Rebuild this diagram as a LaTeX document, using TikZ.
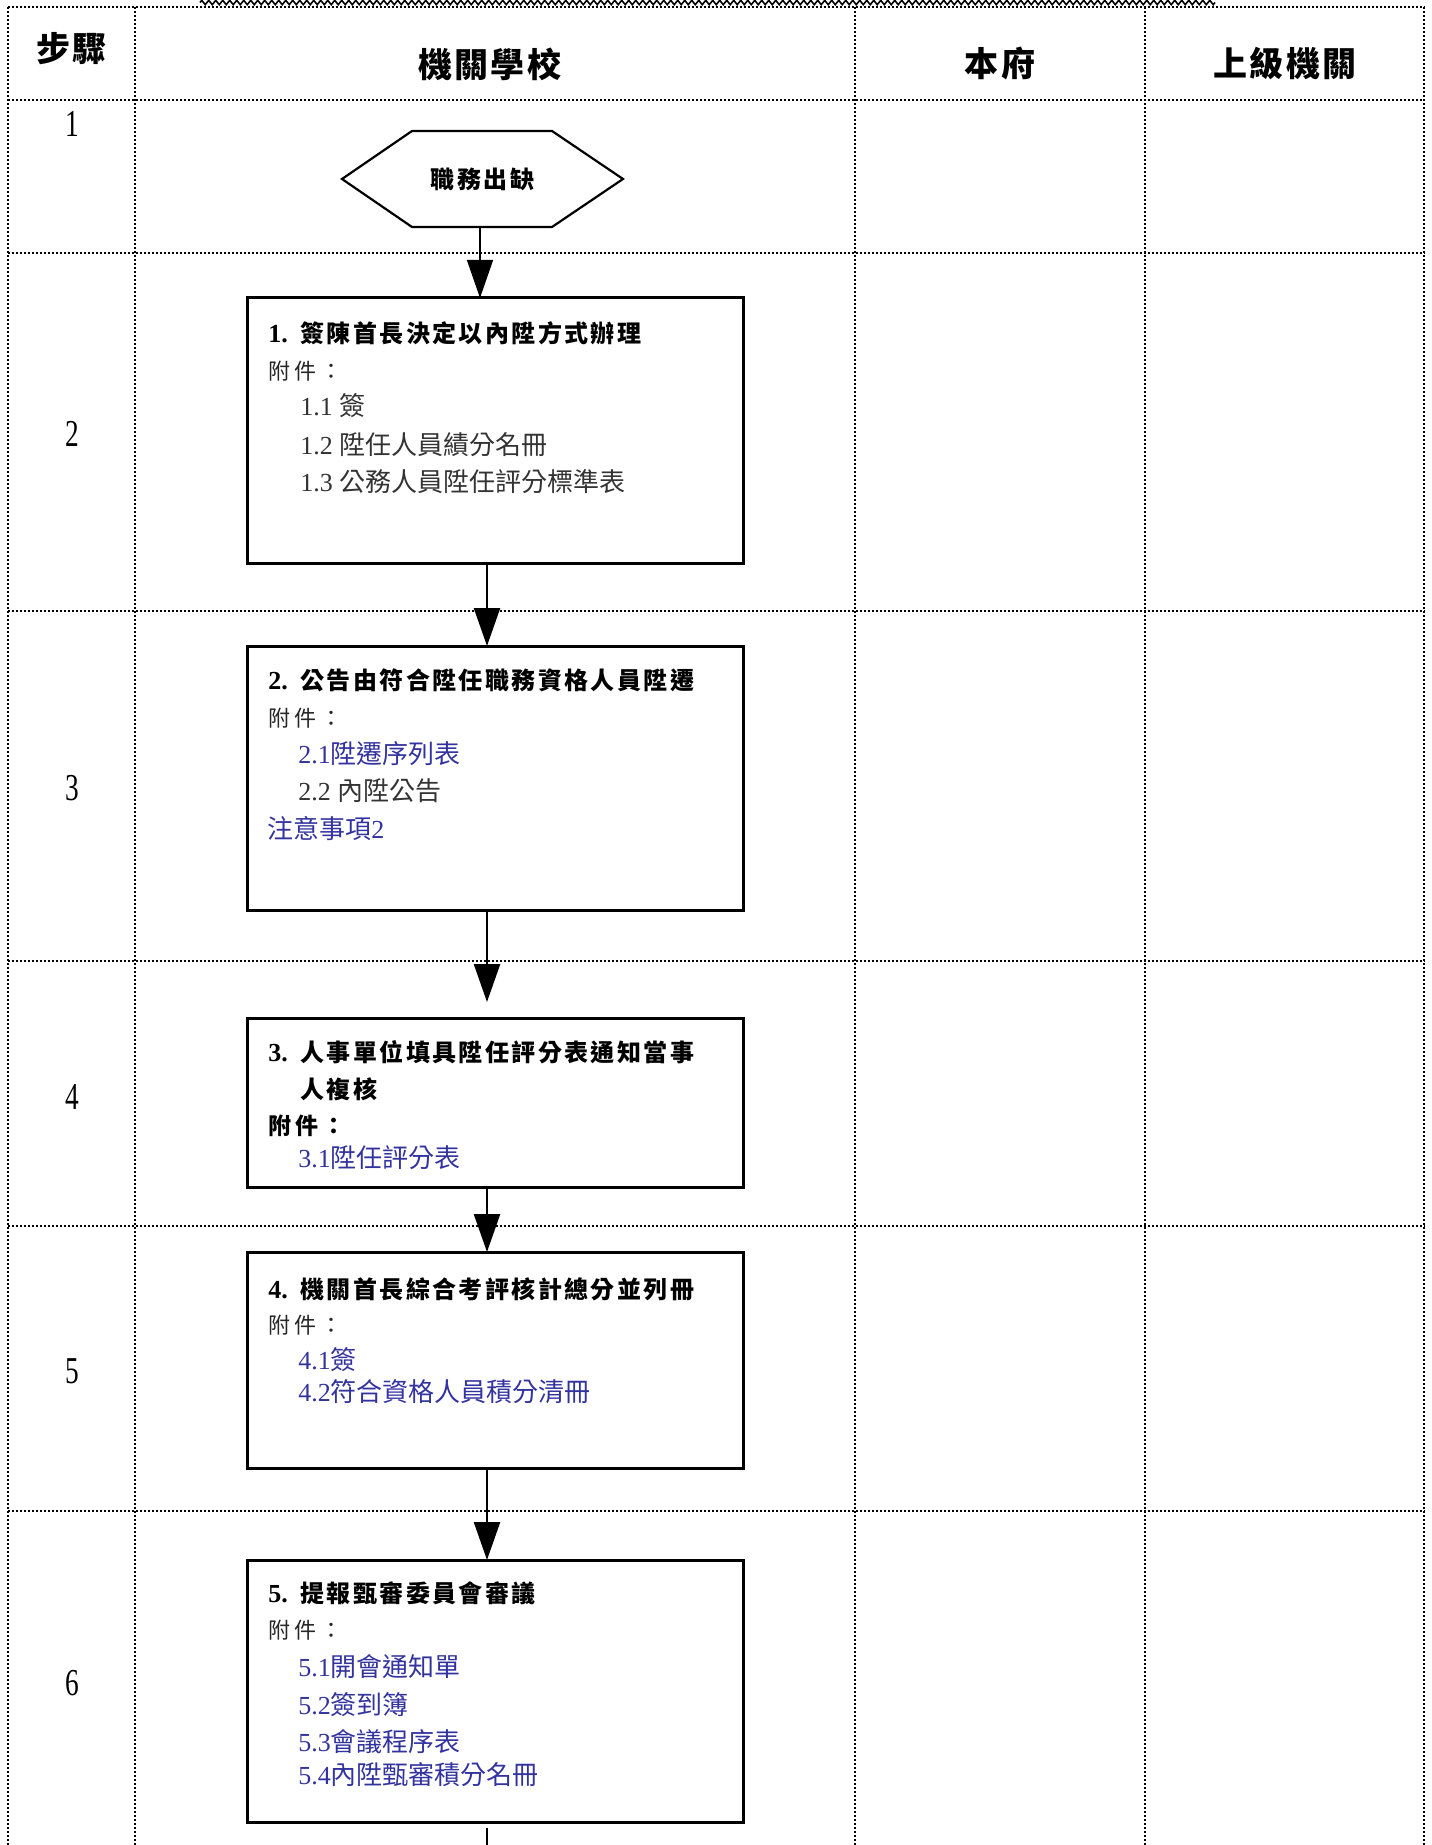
\documentclass[tikz,border=0pt]{standalone}
\usepackage{fontspec}
\setmainfont{Liberation Serif}
\newfontfamily\cjk{Noto Sans CJK TC}
\newfontfamily\cjksp[LetterSpace=10]{Noto Sans CJK TC}
\newfontfamily\cjkatt[LetterSpace=18]{Noto Sans CJK TC}
\newfontfamily\cjkh[LetterSpace=6]{Noto Sans CJK TC}
\usetikzlibrary{arrows.meta,decorations.pathmorphing}
\definecolor{linkblue}{RGB}{51,51,160}
\definecolor{itemgrey}{RGB}{51,51,51}
\newcommand\tnum[1]{\makebox[16pt][l]{\fontsize{13pt}{15pt}\selectfont\rmfamily\bfseries #1}}
\begin{document}
\begin{tikzpicture}[x=0.5pt,y=-0.5pt,
  grid/.style={line width=1pt,dash pattern=on 1pt off 1pt},
  box/.style={draw,line width=1.5pt,minimum width=248pt,inner sep=0pt,outer sep=0pt,anchor=north west},
  hexbase/.style={minimum width=140.5pt,minimum height=48pt,inner sep=0pt,outer sep=0pt,font=\fontsize{12pt}{14pt}\selectfont\cjksp\bfseries},
  hexline/.style={line width=1.1pt,line join=miter},
  arr/.style={line width=1.2pt,-{Triangle[length=19pt,width=13pt]}},
  thinarr/.style={line width=0.7pt,-{Triangle[length=19pt,width=13pt]}},
  thinline/.style={line width=0.7pt},
  title/.style={anchor=west,inner sep=0pt,font=\fontsize{12pt}{14pt}\selectfont\cjksp\bfseries},
  att/.style={anchor=west,inner sep=0pt,text=black!85,font=\fontsize{11pt}{13pt}\selectfont\cjkatt},
  attb/.style={anchor=west,inner sep=0pt,font=\fontsize{11.5pt}{13pt}\selectfont\cjkatt\bfseries},
  item/.style={anchor=west,inner sep=0pt,text=itemgrey,font=\fontsize{13pt}{15pt}\selectfont\cjk},
  link/.style={item,text=linkblue},
  hdr/.style={inner sep=0pt,font=\fontsize{17pt}{19pt}\selectfont\cjkh\bfseries},
  stepnum/.style={inner sep=0pt,font=\fontsize{19pt}{21pt}\selectfont}
]
\fill[white] (0,0) rectangle (1431,1845);
\useasboundingbox (0,0) rectangle (1431,1845);

% faint cut-off line at top
\draw[line width=0.8pt,decorate,decoration={zigzag,segment length=3.5pt,amplitude=1.1pt}] (200,2.5) -- (1215,2.5);

% table grid
\foreach \xx in {7.5,135,855,1145,1424} \draw[grid] (\xx,7) -- (\xx,1845);
\foreach \yy in {7,100,253,611,961,1226,1511} \draw[grid] (7.5,\yy) -- (1424,\yy);

% header
\node[hdr] (h1) at (72,49) {步驟};
\node[hdr] (h2) at (490,64) {機關學校};
\node[hdr] (h3) at (1000,64) {本府};
\node[hdr] (h4) at (1285,64) {上級機關};

% step numbers
\node[stepnum] (s1) at (72,124) {\scalebox{0.72}[1]{1}};
\node[stepnum] (s2) at (72,434) {\scalebox{0.72}[1]{2}};
\node[stepnum] (s3) at (72,788) {\scalebox{0.72}[1]{3}};
\node[stepnum] (s4) at (72,1097) {\scalebox{0.72}[1]{4}};
\node[stepnum] (s5) at (72,1371) {\scalebox{0.72}[1]{5}};
\node[stepnum] (s6) at (72,1683) {\scalebox{0.72}[1]{6}};

% hexagon
\node[hexbase] (hex) at (482.5,179) {職務出缺};
\draw[hexline] (hex.west) -- ([xshift=35pt]hex.north west) -- ([xshift=-35.5pt]hex.north east) -- (hex.east) -- ([xshift=-35.5pt]hex.south east) -- ([xshift=35pt]hex.south west) -- cycle;

% boxes
\node[box,minimum height=132.5pt] (b1) at (247,298) {};
\node[box,minimum height=132pt] (b2) at (247,646) {};
\node[box,minimum height=84.5pt] (b3) at (247,1018) {};
\node[box,minimum height=108pt] (b4) at (247,1252) {};
\node[box,minimum height=131pt] (b5) at (247,1560) {};

% box 1 text
\node[title] (t1) at (268,333) {\tnum{1.}簽陳首長決定以內陞方式辦理};
\node[att] (a1) at (268,371) {附件：};
\node[item] (i11) at (300,406) {{\rmfamily 1.1 }簽};
\node[item] (i12) at (300,445) {{\rmfamily 1.2 }陞任人員績分名冊};
\node[item] (i13) at (300,482) {{\rmfamily 1.3 }公務人員陞任評分標準表};

% box 2 text
\node[title] (t2) at (268,680) {\tnum{2.}公告由符合陞任職務資格人員陞遷};
\node[att] (a2) at (268,718) {附件：};
\node[link] (i21) at (298,754) {{\rmfamily 2.1}陞遷序列表};
\node[item] (i22) at (298,791) {{\rmfamily 2.2 }內陞公告};
\node[link] (n2) at (267,829) {注意事項{\rmfamily 2}};

% box 3 text
\node[title] (t3) at (268,1052) {\tnum{3.}人事單位填具陞任評分表通知當事};
\node[title] (t3b) at (300,1089) {人複核};
\node[attb] (a3) at (268,1126) {附件：};
\node[link] (i31) at (298,1158) {{\rmfamily 3.1}陞任評分表};

% box 4 text
\node[title] (t4) at (268,1289) {\tnum{4.}機關首長綜合考評核計總分並列冊};
\node[att] (a4) at (268,1325) {附件：};
\node[link] (i41) at (298,1360) {{\rmfamily 4.1}簽};
\node[link] (i42) at (298,1392) {{\rmfamily 4.2}符合資格人員積分清冊};

% box 5 text
\node[title] (t5) at (268,1593) {\tnum{5.}提報甄審委員會審議};
\node[att] (a5) at (268,1630) {附件：};
\node[link] (i51) at (298,1667) {{\rmfamily 5.1}開會通知單};
\node[link] (i52) at (298,1705) {{\rmfamily 5.2}簽到簿};
\node[link] (i53) at (298,1742) {{\rmfamily 5.3}會議程序表};
\node[link] (i54) at (298,1775) {{\rmfamily 5.4}內陞甄審積分名冊};

% connectors
\coordinate (ax1) at (480,0);
\coordinate (ax) at (487,0);
\coordinate (bend) at (487,1845);
\draw[thinarr] (hex.south -| ax1) -- (b1.north -| ax1);
\draw[arr] (b1.south -| ax) -- (b2.north -| ax);
\draw[arr,shorten >=8pt] (b2.south -| ax) -- (b3.north -| ax);
\draw[arr] (b3.south -| ax) -- (b4.north -| ax);
\draw[arr] (b4.south -| ax) -- (b5.north -| ax);
\draw[thinline] ([yshift=-3pt]b5.south -| ax) -- (bend);
\end{tikzpicture}
\end{document}
